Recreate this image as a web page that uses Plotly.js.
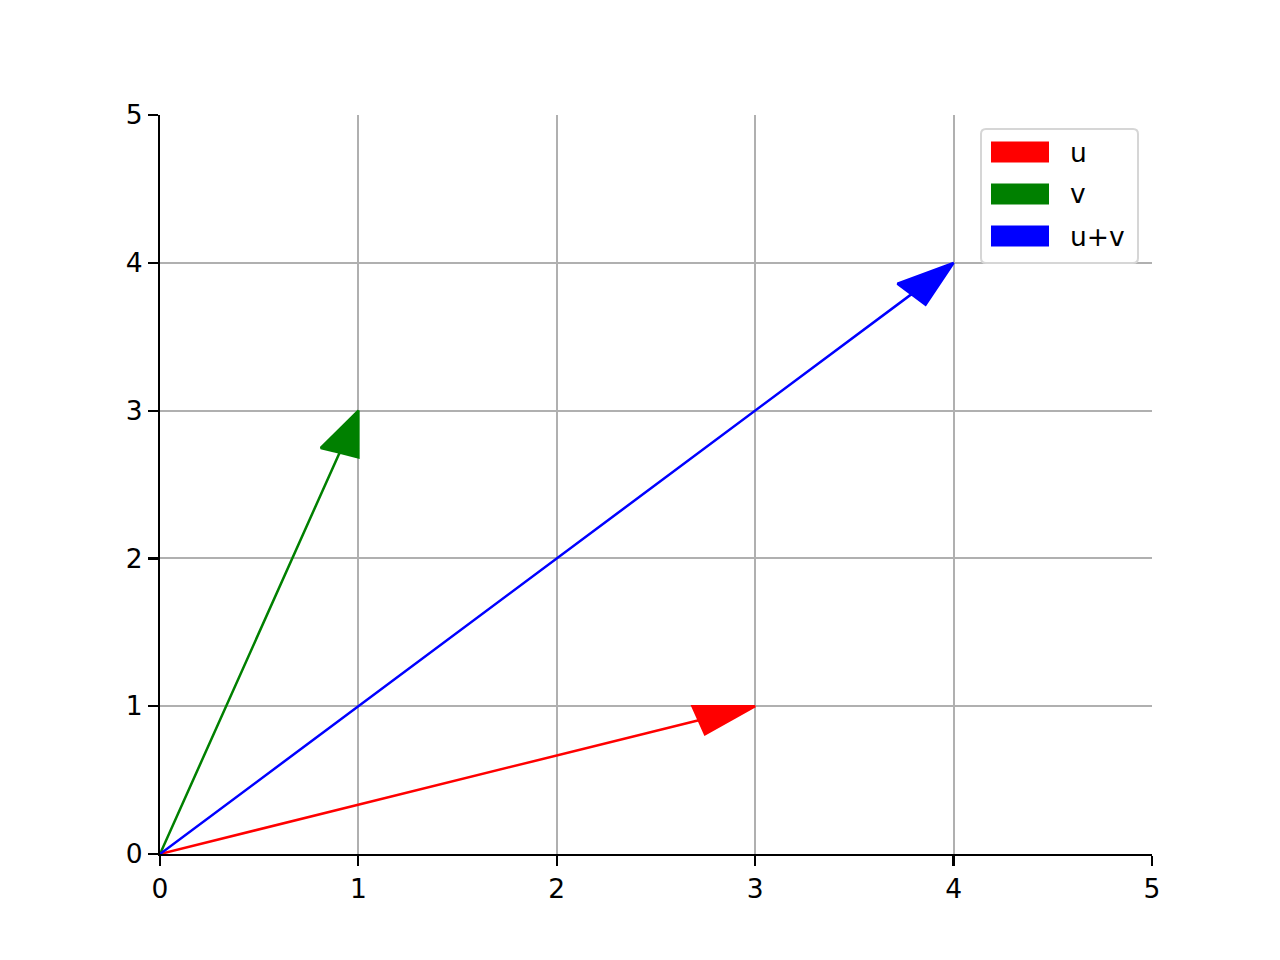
<!DOCTYPE html>
<html>
<head>
<meta charset="utf-8">
<script src="https://cdn.plot.ly/plotly-3.0.1.min.js"></script>
<style>
  html, body { margin: 0; padding: 0; background: #fff; }
  #chart { width: 1280px; height: 960px; }
</style>
</head>
<body>
<div id="chart"></div>
<script>
// vectors drawn from the origin
const vectorNames = ['u', 'v', 'u+v'];
const vectorDx = [3, 1, 4];
const vectorDy = [1, 3, 4];
const vectorColors = ['#ff0000', '#008000', '#0000ff'];

// axis ticks
const tickVals = [0, 1, 2, 3, 4, 5];
const tickText = ['0', '1', '2', '3', '4', '5'];

// arrow head size in data units (like plt.arrow head_width, head_length = 1.5 * width)
const HEAD_WIDTH = 0.2;
const HEAD_LENGTH = 0.3;

const W = 1280, H = 960;
const M = { l: 160, r: 128, t: 115, b: 106 };
const plotW = W - M.l - M.r;
const plotH = H - M.t - M.b;
const FONT_SIZE = 26.5;

// pixel -> paper helpers for the matplotlib-style legend
const px = v => (v - M.l) / plotW;
const py = v => (H - M.b - v) / plotH;

// build one closed path per vector: shaft + triangular head, tip on (dx, dy)
function arrowPath(dx, dy) {
    const len = Math.sqrt(dx * dx + dy * dy);
    const ux = dx / len, uy = dy / len;
    const nx = -uy, ny = ux;
    const bx = dx - HEAD_LENGTH * ux;
    const by = dy - HEAD_LENGTH * uy;
    const hw = HEAD_WIDTH / 2;
    return {
        x: [0, bx, bx + hw * nx, dx, bx - hw * nx, bx, 0],
        y: [0, by, by + hw * ny, dy, by - hw * ny, by, 0]
    };
}

const traces = vectorNames.map((name, i) => {
    const p = arrowPath(vectorDx[i], vectorDy[i]);
    return {
        x: p.x,
        y: p.y,
        name: name,
        type: 'scatter',
        mode: 'lines',
        fill: 'toself',
        fillcolor: vectorColors[i],
        line: { color: vectorColors[i], width: 2.5 },
        showlegend: false,
        hoverinfo: 'skip'
    };
});

// legend box (rounded, light grey edge) like matplotlib's
const box = { x0: 981, x1: 1138, y0: 129, y1: 263, r: 5 };
function roundedRect(b) {
    const rx = b.r / plotW, ry = b.r / plotH;
    const l = px(b.x0), rr = px(b.x1), t = py(b.y0), bt = py(b.y1);
    return `M${l + rx},${t} L${rr - rx},${t} Q${rr},${t} ${rr},${t - ry} ` +
        `L${rr},${bt + ry} Q${rr},${bt} ${rr - rx},${bt} ` +
        `L${l + rx},${bt} Q${l},${bt} ${l},${bt + ry} ` +
        `L${l},${t - ry} Q${l},${t} ${l + rx},${t} Z`;
}

const shapes = [{
    type: 'path',
    xref: 'paper', yref: 'paper',
    path: roundedRect(box),
    fillcolor: 'rgba(255,255,255,0.8)',
    line: { color: '#d6d6d6', width: 2 },
    layer: 'above'
}];
const annotations = [];

vectorNames.forEach((name, i) => {
    const cy = 152 + i * 42;
    shapes.push({
        type: 'rect',
        xref: 'paper', yref: 'paper',
        x0: px(991), x1: px(1049),
        y0: py(cy - 10.5), y1: py(cy + 10.5),
        fillcolor: vectorColors[i],
        line: { width: 0 },
        layer: 'above'
    });
    annotations.push({
        xref: 'paper', yref: 'paper',
        x: px(1068), y: py(cy),
        xanchor: 'left', yanchor: 'middle',
        text: name,
        showarrow: false,
        font: { family: 'DejaVu Sans', size: FONT_SIZE, color: 'black' }
    });
});

const axisCommon = {
    range: [0, 5],
    tickvals: tickVals,
    ticktext: tickText,
    showgrid: true,
    gridcolor: '#b0b0b0',
    gridwidth: 2,
    zeroline: false,
    showline: true,
    linecolor: 'black',
    linewidth: 2.2,
    ticks: 'outside',
    ticklen: 10,
    tickwidth: 2.2,
    tickcolor: 'black',
    tickfont: { family: 'DejaVu Sans', size: FONT_SIZE, color: 'black' },
    fixedrange: true
};

const layout = {
    width: W,
    height: H,
    margin: M,
    paper_bgcolor: 'white',
    plot_bgcolor: 'white',
    xaxis: Object.assign({}, axisCommon),
    yaxis: Object.assign({}, axisCommon),
    showlegend: false,
    shapes: shapes,
    annotations: annotations
};

Plotly.newPlot('chart', traces, layout, { displayModeBar: false, staticPlot: true });
</script>
</body>
</html>
